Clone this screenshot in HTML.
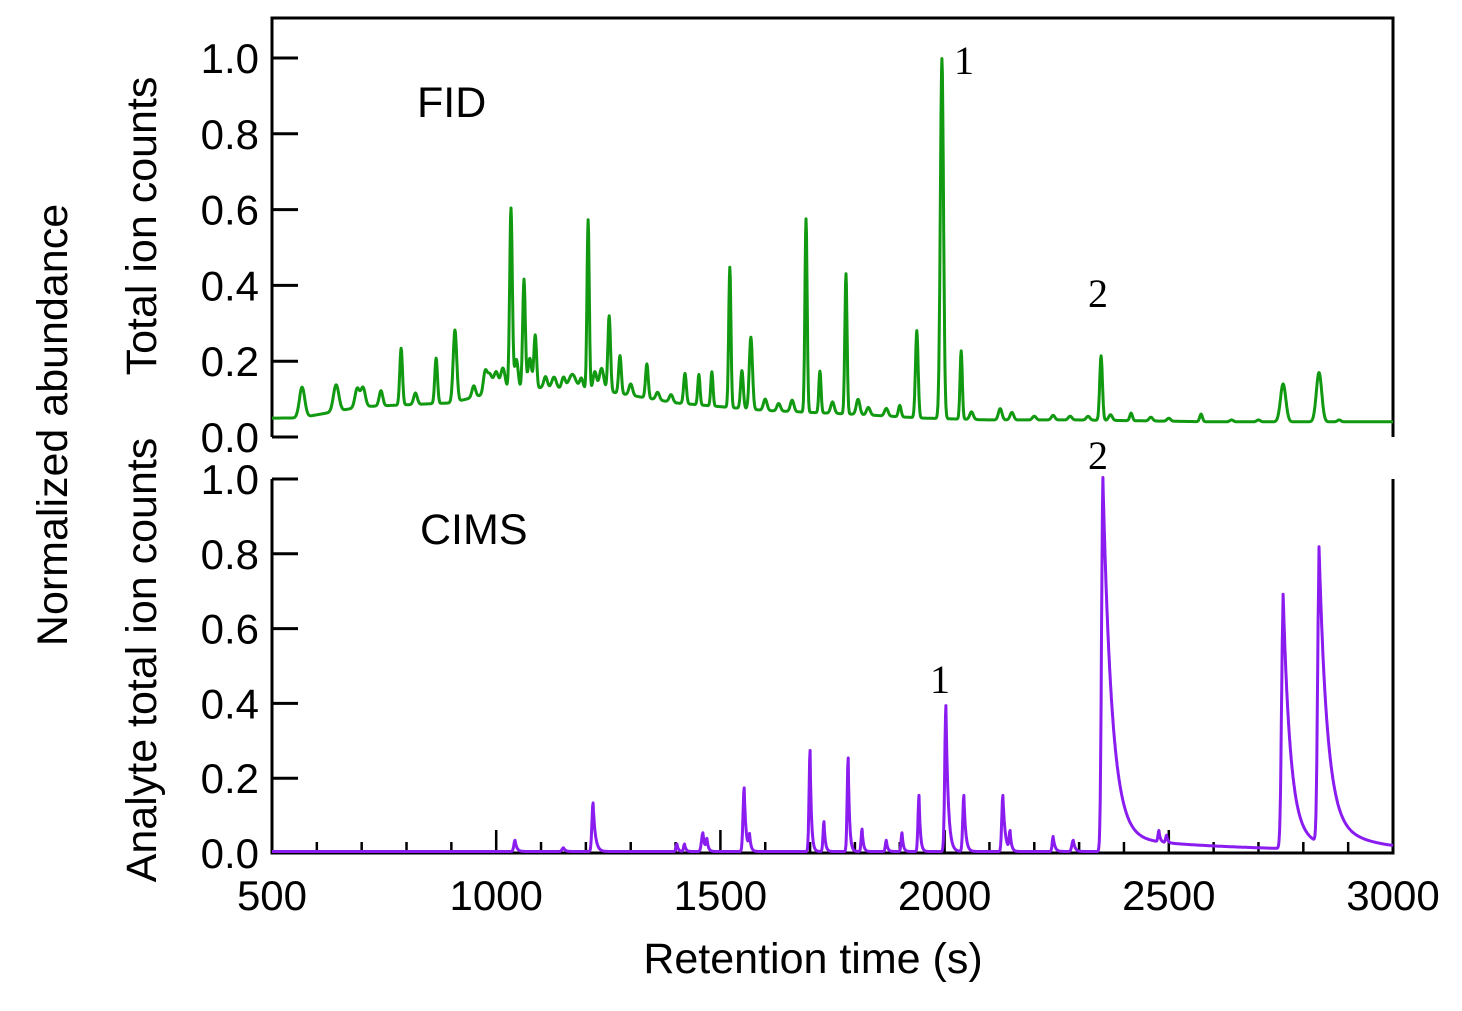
<!DOCTYPE html>
<html><head><meta charset="utf-8">
<style>
html,body{margin:0;padding:0;background:#fff;}
svg{display:block;}
text{font-family:"Liberation Sans",sans-serif;fill:#000;}
.serif{font-family:"Liberation Serif",serif;}
</style></head>
<body>
<svg id="chart" width="1462" height="1011" viewBox="0 0 1462 1011">
<g id="frame"></g>
<g id="ticks"></g>
<g id="series"></g>
<text x="67" y="425" font-size="43" text-anchor="middle" transform="rotate(-90 67 425)">Normalized abundance</text>
<text x="156" y="226" font-size="43" text-anchor="middle" transform="rotate(-90 156 226)">Total ion counts</text>
<text x="156" y="660" font-size="43" text-anchor="middle" transform="rotate(-90 156 660)">Analyte total ion counts</text>
<text x="813" y="973" font-size="43" text-anchor="middle">Retention time (s)</text>
<text x="417" y="117" font-size="43">FID</text>
<text x="420" y="544" font-size="43">CIMS</text>
<text x="954" y="74" font-size="40" class="serif">1</text>
<text x="1088" y="307" font-size="40" class="serif">2</text>
<text x="1088" y="469" font-size="40" class="serif">2</text>
<text x="930" y="693" font-size="40" class="serif">1</text>
</svg>
<script>
// ---- data ----
const xTicks = [500,1000,1500,2000,2500,3000];
const yTicks = [0.0,0.2,0.4,0.6,0.8,1.0];
const yTickLabels = ["0.0","0.2","0.4","0.6","0.8","1.0"];
// FID baseline knots
const fidBaseT = [500,560,700,900,1000,1100,1250,1400,1600,1800,1950,2100,2300,2600,3000];
const fidBaseV = [0.05,0.05,0.08,0.09,0.12,0.13,0.12,0.09,0.07,0.06,0.05,0.045,0.045,0.04,0.04];
// FID peaks: time, height (above baseline), width (s)
const fidPeakT = [567,643,690,703,743,788,820,866,908,950,975,985,1000,1015,1033,1045,1062,1075,1087,1110,1129,1150,1170,1190,1205,1220,1235,1252,1276,1300,1336,1360,1390,1421,1452,1481,1521,1548,1568,1600,1630,1660,1691,1722,1750,1780,1807,1830,1870,1900,1938,1994,2037,2060,2124,2150,2200,2242,2280,2320,2349,2370,2416,2460,2500,2572,2640,2700,2755,2835,2880];
const fidPeakH = [0.08,0.07,0.05,0.05,0.04,0.15,0.03,0.12,0.19,0.03,0.05,0.05,0.05,0.06,0.48,0.08,0.29,0.08,0.14,0.03,0.03,0.03,0.04,0.03,0.45,0.05,0.06,0.20,0.10,0.03,0.09,0.02,0.02,0.08,0.08,0.09,0.37,0.10,0.19,0.03,0.02,0.03,0.51,0.11,0.03,0.37,0.04,0.02,0.02,0.03,0.23,0.95,0.18,0.02,0.03,0.02,0.01,0.012,0.01,0.01,0.17,0.015,0.02,0.01,0.008,0.02,0.005,0.005,0.10,0.13,0.005];
const fidPeakW = [6,6,5,5,4,3,4,3,4,4,4,6,5,5,3,4,3,4,3,4,5,4,8,4,2.5,4,5,3,3,4,3,4,4,3,2.5,2.5,2.5,3,3.5,4,4,4,2.5,2.5,4,2.5,4,4,4,3,3,3.5,2.5,4,4,4,4,4,4,4,3,4,3,4,4,3,4,4,6,6,4];
// CIMS peaks: time, height, width, tail (s)
const cimsPeakT = [1042,1150,1216,1403,1420,1461,1470,1553,1565,1700,1731,1785,1816,1870,1905,1943,2003,2043,2130,2146,2242,2287,2353,2478,2495,2755,2835];
const cimsPeakH = [0.03,0.01,0.13,0.02,0.02,0.05,0.03,0.17,0.04,0.27,0.08,0.25,0.06,0.03,0.05,0.15,0.39,0.15,0.15,0.05,0.04,0.03,0.96,0.03,0.02,0.64,0.72];
const cimsPeakW = [2.5,3,2.5,2,2,3,2,2.5,2,2.2,2,2.2,2,2,2,2.2,2.6,2.4,2.4,2,2,3,3,2,2,3.5,3.2];
const cimsPeakTail = [4,4,5,3,3,4,3,4,3,3,3,3,3,3,3,3,5,4,5,3,4,4,20,3,3,16,18];
const cimsSlowT = [2353,2755,2835];
const cimsSlowH = [0.04,0.04,0.07];
const cimsSlowTail = [250,80,90];

// ---- axes ----
const X0=272,X1=1393;
const xs = t => X0 + (t-500)/(3000-500)*(X1-X0);
const yTop = v => 437 - v*379;
const yBot = v => 853 - v*374;
const NS="http://www.w3.org/2000/svg";
function mk(tag, attrs, parent){const e=document.createElementNS(NS,tag);for(const k in attrs)e.setAttribute(k,attrs[k]);parent.appendChild(e);return e;}
const frame=document.getElementById('frame'), ticks=document.getElementById('ticks'), series=document.getElementById('series');
let f1=mk('path',{d:`M${X0},437 V18 H${X1} V437`,fill:'none',stroke:'#000','stroke-width':3},frame);


let f2=mk('path',{d:`M${X0},479 V853 H${X1} V479`,fill:'none',stroke:'#000','stroke-width':3},frame);



yTicks.forEach((v,i)=>{
  [yTop,yBot].forEach((fy,p)=>{
    const y=fy(v);
    const l=mk('line',{x1:X0,x2:X0+26,y1:y,y2:y,stroke:'#000','stroke-width':3},ticks);
    
    
    const t=mk('text',{x:259,y:y+15,'font-size':42,'text-anchor':'end'},ticks);
    t.textContent=yTickLabels[i];
    
    
  });
});
for(let t=600;t<3000;t+=100){
  const major = t%500===0;
  const l=mk('line',{x1:xs(t),x2:xs(t),y1:853,y2:major?830:842,stroke:'#000','stroke-width':2.5},ticks);
  
  
}
xTicks.forEach(t=>{
  const e=mk('text',{x:xs(t),y:910,'font-size':42,'text-anchor':'middle'},ticks);
  e.textContent=String(t);
  
  
});

// ---- series ----
function interp(t,T,V){if(t<=T[0])return V[0];for(let i=1;i<T.length;i++){if(t<=T[i]){const r=(t-T[i-1])/(T[i]-T[i-1]);return V[i-1]+r*(V[i]-V[i-1]);}}return V[V.length-1];}
let dF='',dC='';
for(let t=500;t<=3000;t+=1){
  let v=interp(t,fidBaseT,fidBaseV);
  for(let i=0;i<fidPeakT.length;i++){const d=(t-fidPeakT[i])/fidPeakW[i];if(Math.abs(d)<8)v+=fidPeakH[i]*Math.exp(-0.5*d*d);}
  dF+=(t===500?'M':'L')+xs(t).toFixed(1)+','+yTop(v).toFixed(1);
  let c=0.004;
  for(let i=0;i<cimsPeakT.length;i++){const d=t-cimsPeakT[i];
    if(d<0){const z=d/cimsPeakW[i];if(z>-8)c+=cimsPeakH[i]*Math.exp(-0.5*z*z);}
    else c+=cimsPeakH[i]*Math.exp(-d/cimsPeakTail[i]);}
  for(let i=0;i<cimsSlowT.length;i++){const d=t-cimsSlowT[i];if(d>=0)c+=cimsSlowH[i]*Math.exp(-d/cimsSlowTail[i]);}
  dC+=(t===500?'M':'L')+xs(t).toFixed(1)+','+yBot(c).toFixed(1);
}
const pf=mk('path',{d:dF,fill:'none',stroke:'#119911','stroke-width':3,'stroke-linejoin':'round'},series);


const pc=mk('path',{d:dC,fill:'none',stroke:'#8a1cf0','stroke-width':3,'stroke-linejoin':'round'},series);


</script>
</body></html>
